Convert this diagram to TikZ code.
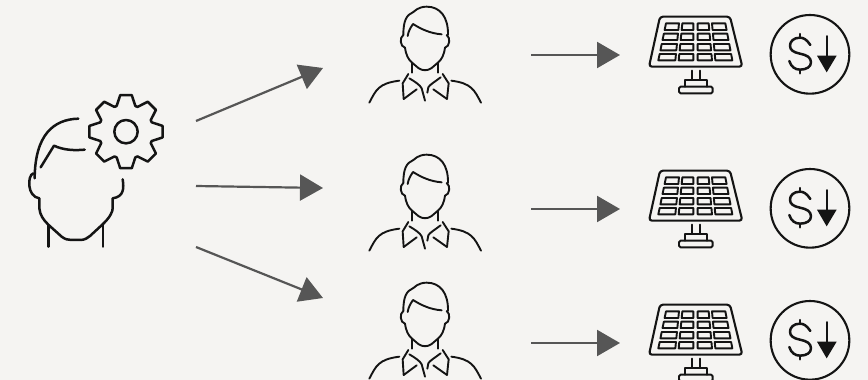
\documentclass[tikz,border=0pt]{standalone}
\usepackage{tikz}
\usetikzlibrary{arrows.meta,positioning}
\definecolor{paper}{HTML}{F5F4F2}
\definecolor{ink}{HTML}{141414}
\definecolor{shaft}{HTML}{565656}
\begin{document}
\begin{tikzpicture}[
    x=1pt, y=-1pt,
    outline/.style={draw=ink, line width=1.9pt, line cap=round, line join=round},
    thickline/.style={draw=ink, line width=2.5pt, line cap=round, line join=round},
    arrow/.style={draw=shaft, line width=2.2pt, -{Triangle[length=23pt,width=26pt,fill=shaft]}},
    icon/.style={scale=1/3},
    pics/lead/.style={code={
        \draw[thickline] (235,116) .. controls (160,118) and (105,165) .. (104,295);
        \draw[thickline] (122,262) -- (162,197) .. controls (190,210) and (220,212) .. (254,209);
        \draw[thickline] (100,280) .. controls (82,285) and (80,350) .. (118,355) -- (118,385)
            .. controls (120,405) and (130,420) .. (146,435) -- (185,470)
            .. controls (195,478) and (205,480) .. (215,480) -- (240,480)
            .. controls (255,480) and (262,474) .. (270,468) -- (309,432)
            .. controls (330,412) and (338,395) .. (338,385) -- (338,355)
            .. controls (372,350) and (372,325) .. (368,298);
        \draw[thickline] (146,435) -- (146,500);
        \draw[thickline] (309,432) -- (309,500);
        \draw[thickline] (378,155) circle (35);
        \foreach \a in {0,45,...,315}
            \draw[thickline, shift={(378,155)}] ({\a+65}:82) -- ({\a+70}:82) -- ({\a+81}:111)
                -- ({\a+99}:111) -- ({\a+110}:82);
    }},
    pics/person/.style={code={
        \draw[outline] (160,105) .. controls (160,60) and (170,45) .. (190,36)
            .. controls (205,22) and (220,20) .. (230,20)
            .. controls (270,20) and (295,50) .. (294,105);
        \draw[outline] (173,108) .. controls (175,95) and (180,85) .. (189,72)
            .. controls (215,88) and (240,100) .. (275,103);
        \draw[outline] (160,105) .. controls (148,112) and (150,140) .. (165,143)
            .. controls (168,165) and (175,178) .. (185,187) -- (205,204)
            .. controls (218,213) and (232,213) .. (245,204) -- (265,187)
            .. controls (275,178) and (282,165) .. (285,143)
            .. controls (300,140) and (302,112) .. (290,105);
        \draw[outline] (185,187) -- (185,218);
        \draw[outline] (265,187) -- (265,218);
        \draw[outline] (58,308) .. controls (78,270) and (85,250) .. (148,242);
        \draw[outline] (304,242) .. controls (365,250) and (373,270) .. (393,308);
        \draw[outline] (175,222) -- (158,250) -- (161,297) -- (200,268);
        \draw[outline] (178,235) .. controls (195,245) and (210,255) .. (215,265) -- (225,302);
        \draw[outline] (278,222) -- (296,250) -- (291,297) -- (250,268);
        \draw[outline] (272,232) .. controls (255,245) and (238,255) .. (235,262) -- (232,278);
    }},
    pics/panel/.style={code={
        \draw[outline, line width=2.1pt, rounded corners=3pt] (90,50) -- (300,50) -- (337,200) -- (57,200) -- cycle;
        \foreach \ya/\yb in {70/90,101/120,132/151,162/181}
            \foreach \la/\lb/\ra/\rb in {108/85/147/136,157/146/190/190,203/203/236/246,246/256/286/307}
                \draw[outline, line width=1.9pt]
                    ({\la+(\lb-\la)*(\ya-70)/111},\ya) -- ({\ra+(\rb-\ra)*(\ya-70)/111},\ya)
                    -- ({\ra+(\rb-\ra)*(\yb-70)/111},\yb) -- ({\la+(\lb-\la)*(\yb-70)/111},\yb) -- cycle;
        \draw[outline] (185,212) -- (185,240);
        \draw[outline] (209,212) -- (209,240);
        \draw[outline] (165,260) -- (165,240) -- (230,240) -- (230,260);
        \draw[outline, rounded corners=1.5pt] (147,260) rectangle (248,280);
    }},
    pics/saving/.style={code={
        \draw[outline, line width=2.1pt] (540,163) circle (118);
        \draw[thickline] (541,135) .. controls (530,118) and (520,113) .. (510,113)
            .. controls (490,113) and (480,125) .. (480,137)
            .. controls (480,150) and (490,157) .. (510,161)
            .. controls (530,165) and (543,172) .. (543,187)
            .. controls (543,200) and (530,209) .. (510,209)
            .. controls (495,209) and (483,200) .. (478,183);
        \draw[thickline] (510,102) -- (510,113);
        \draw[thickline] (510,209) -- (510,220);
        \draw[outline] (590,108) -- (590,170);
        \fill[ink] (561,167) -- (620,167) -- (590,217) -- cycle;
    }}
]
\fill[paper] (0,0) rectangle (868,380);
\clip (0,0) rectangle (868,380);

\pic[icon] (lead) at (0,80) {lead};
\pic[icon] (persona) at (350,0) {person};
\pic[icon] (personb) at (350,148) {person};
\pic[icon] (personc) at (350,276) {person};
\pic[icon] (panela) at (630,0) {panel};
\pic[icon] (panelb) at (630,154) {panel};
\pic[icon] (panelc) at (630,288) {panel};
\pic[icon] (savinga) at (630,0) {saving};
\pic[icon] (savingb) at (630,154) {saving};
\pic[icon] (savingc) at (630,286) {saving};

\coordinate (leada) at (196,121);
\coordinate (leadb) at (196,186);
\coordinate (leadc) at (196,247);
\coordinate (intoa) at (323,68);
\coordinate (intob) at (323,188);
\coordinate (intoc) at (323,298);
\coordinate (outa) at (531,55);
\coordinate (outb) at (531,209);
\coordinate (outc) at (531,343);
\coordinate (sola) at (620,55);
\coordinate (solb) at (620,209);
\coordinate (solc) at (620,343);

\draw[arrow] (leada) -- (intoa);
\draw[arrow] (leadb) -- (intob);
\draw[arrow] (leadc) -- (intoc);
\draw[arrow] (outa) -- (sola);
\draw[arrow] (outb) -- (solb);
\draw[arrow] (outc) -- (solc);
\end{tikzpicture}
\end{document}
